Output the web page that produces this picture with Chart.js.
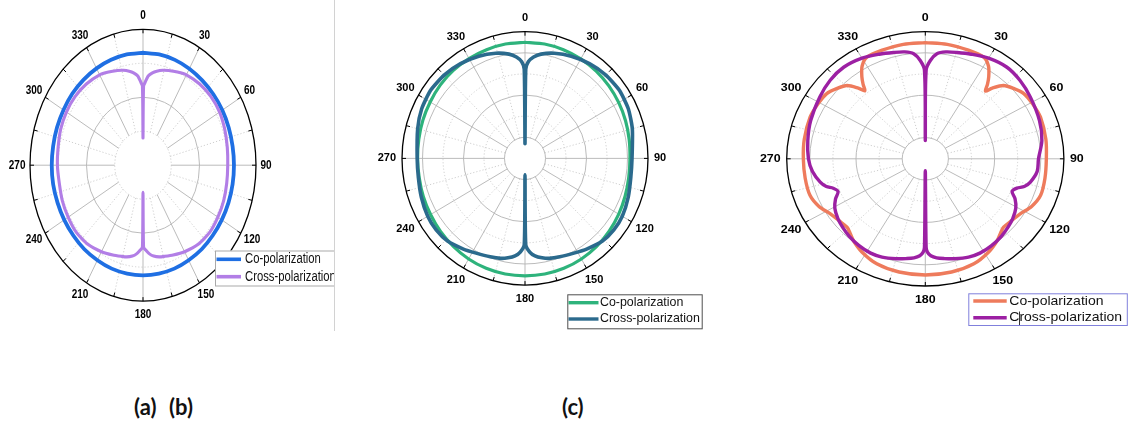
<!DOCTYPE html>
<html>
<head>
<meta charset="utf-8">
<script src="https://cdn.jsdelivr.net/npm/chart.js@4.4.1/dist/chart.umd.min.js"></script>
<style>
  html, body { margin: 0; padding: 0; background: #fff; }
  body { width: 1128px; height: 428px; position: relative; overflow: hidden; }
  canvas { position: absolute; }
  .edge { position: absolute; left: 334px; top: 0; width: 1px; height: 331px; background: #d2d2d2; }
  .cap { position: absolute; top: 393px; font: bold 22px Lato, "Open Sans", sans-serif; color: #111; white-space: pre; }
</style>
</head>
<body>
<canvas id="pa" width="335" height="335" style="left:0;top:0"></canvas>
<canvas id="pb" width="380" height="340" style="left:340px;top:0"></canvas>
<canvas id="pc" width="398" height="340" style="left:730px;top:0"></canvas>
<div class="edge"></div>
<div class="cap" style="left:134px">(a)</div>
<div class="cap" style="left:169px">(b)</div>
<div class="cap" style="left:562px">(c)</div>
<script>
// ---- angle labels around each polar frame (degrees) ----
const ANGLE_LABELS = ['0', '30', '60', '90', '120', '150', '180', '210', '240', '270', '300', '330'];
const SERIES_NAMES = ['Co-polarization', 'Cross-polarization'];

// ---- radial rings (dB) ----
const RINGS_A = [-30, -20, -10, 0];
const RINGS_BC = [-25, -20, -15, -10, -5, 0];

// ---- shared angle grid for the smooth co-polar traces (deg) ----
const ANG_10 = [0, 10, 20, 30, 40, 50, 60, 70, 80, 90, 100, 110, 120, 130, 140, 150, 160, 170, 180,
                190, 200, 210, 220, 230, 240, 250, 260, 270, 280, 290, 300, 310, 320, 330, 340, 350, 360];

// ---- panel (a)/(b): left pattern ----
const A_CO = [-6.9, -6.9, -7.0, -7.2, -7.4, -7.5, -7.6, -7.7, -7.8, -7.8, -7.8, -7.8, -7.8, -7.8, -7.7, -7.7, -7.6, -7.6, -7.6,
              -7.6, -7.6, -7.7, -7.7, -7.8, -7.8, -7.8, -7.7, -7.7, -7.7, -7.6, -7.5, -7.3, -7.2, -7.1, -7.0, -6.9, -6.9];
const A_X_ANG = [0, 0.5, 2, 4, 7, 10, 14, 18, 24, 30, 40, 50, 60, 70, 80, 90, 100, 110, 120, 130, 140, 150, 158, 164, 168, 172, 175, 177.5, 179.5,
                 180, 180.5, 182.5, 185, 188, 192, 196, 202, 210, 220, 230, 240, 250, 260, 270, 280, 290, 300, 310, 320, 330, 336, 342, 346,
                 350, 353, 356, 358, 359.5, 360];
const A_X = [-32, -16.7, -15.4, -13.7, -12.6, -11.9, -11.2, -10.7, -10.0, -9.3, -8.8, -8.6, -8.7, -9.2, -9.7, -10.0, -9.9, -9.6, -9.4, -9.2, -9.6, -10.6, -11.5, -12.1, -12.4, -13.0, -13.8, -14.9, -15.8,
             -32, -15.8, -14.9, -13.8, -13.0, -12.4, -12.1, -11.5, -10.6, -9.6, -9.2, -9.4, -9.6, -9.9, -9.7, -9.5, -9.0, -8.7, -8.6, -8.8, -9.3, -10.0, -10.7, -11.2,
             -11.9, -12.6, -13.7, -15.4, -16.7, -32];

// ---- panel (c) middle pattern ----
const B_CO = [-2.5, -2.5, -2.6, -2.8, -3.0, -3.3, -3.6, -3.9, -4.2, -4.4, -4.3, -4.0, -3.6, -3.2, -2.8, -2.5, -2.3, -2.2, -2.2,
              -2.2, -2.3, -2.5, -2.8, -3.1, -3.4, -3.6, -3.8, -3.8, -3.7, -3.5, -3.3, -3.0, -2.8, -2.7, -2.6, -2.5, -2.5];
const B_X_ANG = [0, 0.5, 2, 5, 9, 16, 25, 35, 45, 55, 65, 75, 90, 100, 110, 120, 128, 136, 145, 152, 160, 166, 170, 174, 177, 179.5,
                 180, 180.5, 183, 186, 190, 194, 200, 208, 215, 224, 232, 240, 250, 260, 270, 285, 295, 305, 315, 325, 335, 344, 351, 355, 358, 359.5, 360];
const B_X = [-26.5, -8.9, -7.1, -5.9, -5.0, -4.1, -3.3, -2.6, -2.1, -1.9, -2.2, -2.9, -3.9, -3.8, -3.2, -2.6, -2.5, -2.8, -3.8, -4.6, -5.2, -5.6, -6.1, -6.8, -7.8, -9.6,
             -26.1, -9.6, -7.8, -6.8, -6.1, -5.6, -5.2, -4.6, -3.8, -2.8, -2.5, -2.6, -3.1, -3.6, -3.7, -2.9, -2.2, -1.9, -2.1, -2.6, -3.3, -4.1, -5.0, -5.9, -7.1, -8.9, -26.5];

// ---- panel (c) right pattern ----
const C_CO_ANG = [0, 10, 20, 27.8, 32, 35.4, 37.5, 39.2, 41, 44.4, 49, 54.2, 61, 68.5, 80, 90, 100, 109, 116, 122.3, 128, 133.6, 137, 141.2, 148, 157, 168,
                  180, 192, 203, 212, 218.8, 223, 226.4, 232, 237.7, 244, 251, 260, 270, 280, 291.5, 299, 305.8, 311, 315.6, 319, 320.8, 322.5, 324.6, 328, 332.2, 340, 350, 360];
const C_CO = [-2.6, -2.6, -2.75, -2.9, -4.2, -6.3, -7.9, -9.4, -7.9, -5.8, -4.7, -3.7, -3.4, -3.2, -3.5, -3.8, -3.7, -3.6, -4.4, -5.7, -6.3, -6.6, -6.1, -5.2, -4.1, -3.1, -2.7,
              -2.6, -2.7, -3.1, -4.1, -5.2, -6.1, -6.6, -6.3, -5.7, -4.4, -3.6, -3.6, -3.6, -3.4, -3.2, -3.4, -3.7, -4.7, -5.8, -7.9, -9.3, -7.9, -6.3, -4.2, -2.9, -2.75, -2.6, -2.6];
const C_X_ANG = [0, 0.5, 2.7, 5.8, 10, 15.3, 22, 30, 39.3, 48, 57.4, 70, 80.3, 90, 97, 103.6, 107, 109.2, 112.3, 115.9, 120.8, 126.7, 132, 138, 145, 152, 158, 165, 170, 174, 177, 178.8, 179.5,
                 180, 180.5, 181.2, 183, 186, 190, 195, 202, 208, 215, 222, 228, 233.3, 239.2, 244.1, 247.7, 250.8, 253, 256.4, 263, 270, 279.7, 290, 302.6, 312, 320.7, 330, 338, 344.7, 350, 354.2, 357.3, 359.5, 360];
const C_X = [-25.7, -9.1, -6.8, -5.1, -4.4, -4.0, -3.4, -2.6, -2.1, -2.4, -3.0, -3.7, -4.4, -5.5, -5.6, -6.6, -7.6, -9.0, -9.7, -8.4, -7.2, -6.4, -5.9, -5.4, -5.0, -4.8, -5.0, -5.6, -6.1, -6.5, -7.1, -8.0, -9.1,
             -27.2, -9.1, -8.0, -7.1, -6.5, -6.1, -5.6, -5.0, -4.8, -5.0, -5.4, -5.9, -6.4, -7.2, -8.4, -9.6, -8.9, -7.6, -6.6, -5.4, -4.7, -4.2, -3.6, -2.9, -2.3, -2.1, -2.6, -3.4, -4.0, -4.4, -5.1, -6.8, -9.1, -25.7];

// polar (angle, dB) -> normalised cartesian value for the hidden linear x/y scales
function polarPoints(angles, values, rMin, rMax) {
  return angles.map((a, i) => {
    const rho = (values[i] - rMin) / (rMax - rMin);
    const t = a * Math.PI / 180;
    return { x: rho * Math.sin(t), y: rho * Math.cos(t) };
  });
}

function strokeStyle(ctx, kind) {
  if (kind === 'outer') { ctx.strokeStyle = '#000'; ctx.lineWidth = 1.3; ctx.setLineDash([]); }
  else if (kind === 'solid') { ctx.strokeStyle = '#b3b3b3'; ctx.lineWidth = 0.9; ctx.setLineDash([]); }
  else { ctx.strokeStyle = '#c9c9c9'; ctx.lineWidth = 0.9; ctx.setLineDash([1.2, 2]); }
}

// rings, spokes, rim ticks, angle labels and boxed legend of a polar frame
const polarFrame = {
  id: 'polarFrame',
  beforeDatasetsDraw(chart, _args, o) {
    const ctx = chart.ctx, xs = chart.scales.x, ys = chart.scales.y;
    const cx = xs.getPixelForValue(0), cy = ys.getPixelForValue(0);
    const ax = xs.getPixelForValue(1) - cx, ay = cy - ys.getPixelForValue(1);
    const rho = v => (v - o.min) / (o.max - o.min);
    const n = o.rings.length;
    ctx.save();
    for (let i = 0; i < n - 1; i++) {
      const r = rho(o.rings[i]);
      ctx.beginPath();
      ctx.ellipse(cx, cy, ax * r, ay * r, 0, 0, Math.PI * 2);
      strokeStyle(ctx, o.ringStyles[i]);
      ctx.stroke();
    }
    const r0 = rho(o.rings[0]), r1 = rho(o.rings[n - 1]);
    for (let a = 0; a < 360; a += 15) {
      const t = a * Math.PI / 180, s = Math.sin(t), c = Math.cos(t);
      ctx.beginPath();
      ctx.moveTo(cx + ax * r0 * s, cy - ay * r0 * c);
      ctx.lineTo(cx + ax * r1 * s, cy - ay * r1 * c);
      strokeStyle(ctx, a % 30 === 0 ? 'solid' : 'dot');
      ctx.stroke();
    }
    ctx.beginPath();
    ctx.ellipse(cx, cy, ax * r1, ay * r1, 0, 0, Math.PI * 2);
    strokeStyle(ctx, 'outer');
    ctx.stroke();
    ctx.lineWidth = 1;
    for (let a = 0; a < 360; a += 15) {
      const t = a * Math.PI / 180, s = Math.sin(t), c = Math.cos(t);
      ctx.beginPath();
      ctx.moveTo(cx + ax * r1 * s, cy - ay * r1 * c);
      ctx.lineTo(cx + (ax * r1 - o.tick) * s, cy - (ay * r1 - o.tick) * c);
      ctx.stroke();
    }
    ctx.restore();
  },
  afterDraw(chart, _args, o) {
    const ctx = chart.ctx, xs = chart.scales.x, ys = chart.scales.y;
    const cx = xs.getPixelForValue(0), cy = ys.getPixelForValue(0);
    const ax = xs.getPixelForValue(1) - cx, ay = cy - ys.getPixelForValue(1);
    const [sx, sy] = o.textScale;
    const drawText = (txt, x, y) => {
      ctx.save(); ctx.translate(x, y); ctx.scale(sx, sy); ctx.fillText(txt, 0, 0); ctx.restore();
    };
    ctx.save();
    ctx.fillStyle = '#000';
    ctx.font = 'bold ' + o.labelSize + 'px "Liberation Sans", Arial, sans-serif';
    ctx.textAlign = 'center';
    ctx.textBaseline = 'middle';
    ANGLE_LABELS.forEach(lbl => {
      const t = Number(lbl) * Math.PI / 180;
      const w = ctx.measureText(lbl).width * sx;
      drawText(lbl, cx + Math.sin(t) * (ax + o.labelGap + w / 2), cy - Math.cos(t) * (ay + o.labelOffY));
    });

    const L = o.legend;
    ctx.fillStyle = '#fff';
    ctx.fillRect(L.x, L.y, L.w, L.h);
    ctx.strokeStyle = L.border;
    ctx.lineWidth = 1;
    ctx.strokeRect(L.x + 0.5, L.y + 0.5, L.w, L.h);
    ctx.font = L.size + 'px "Liberation Sans", Arial, sans-serif';
    ctx.textAlign = 'left';
    chart.data.datasets.forEach((ds, i) => {
      const y = L.rows[i];
      ctx.strokeStyle = ds.borderColor;
      ctx.lineWidth = L.lineWidth;
      ctx.beginPath(); ctx.moveTo(L.line[0], y); ctx.lineTo(L.line[1], y); ctx.stroke();
      ctx.fillStyle = '#111';
      drawText(ds.label, L.textX, y);
    });
    if (L.caret) {
      ctx.strokeStyle = '#333'; ctx.lineWidth = 1;
      ctx.beginPath(); ctx.moveTo(L.caret[0], L.caret[1]); ctx.lineTo(L.caret[0], L.caret[2]); ctx.stroke();
    }
    ctx.restore();
  }
};

function makePolar(id, cfg) {
  const el = document.getElementById(id);
  const W = el.width, H = el.height;
  const pad = {
    left: cfg.cx - cfg.rx, right: W - (cfg.cx + cfg.rx),
    top: cfg.cy - cfg.ry, bottom: H - (cfg.cy + cfg.ry)
  };
  return new Chart(el, {
    type: 'scatter',
    data: {
      datasets: [
        { label: SERIES_NAMES[0], data: polarPoints(cfg.coAng, cfg.co, cfg.min, cfg.max),
          borderColor: cfg.colors[0], borderWidth: cfg.widths[0], order: 1 },
        { label: SERIES_NAMES[1], data: polarPoints(cfg.xAng, cfg.x, cfg.min, cfg.max),
          borderColor: cfg.colors[1], borderWidth: cfg.widths[1], order: 0 }
      ].map(d => Object.assign(d, { showLine: true, pointRadius: 0, pointHoverRadius: 0, tension: cfg.tension,
                                     borderJoinStyle: 'round', borderCapStyle: 'round', fill: false, clip: false }))
    },
    options: {
      responsive: false, animation: false, events: [],
      layout: { padding: pad },
      scales: {
        x: { type: 'linear', min: -1, max: 1, display: false },
        y: { type: 'linear', min: -1, max: 1, display: false }
      },
      plugins: {
        legend: { display: false }, tooltip: { enabled: false },
        polarFrame: cfg.frame
      }
    },
    plugins: [polarFrame]
  });
}

makePolar('pa', {
  cx: 143, cy: 165.2, rx: 113, ry: 135.9, min: -40, max: 0, tension: 0.2,
  coAng: ANG_10, co: A_CO, xAng: A_X_ANG, x: A_X,
  colors: ['#1f6fe3', '#b27ee6'], widths: [3.8, 3.1],
  frame: {
    min: -40, max: 0, rings: RINGS_A, ringStyles: ['dot', 'solid', 'dot', 'outer'], tick: 4,
    textScale: [0.91, 1.12], labelSize: 11, labelGap: 4.5, labelOffY: 13.3,
    legend: { x: 215, y: 250.5, w: 140, h: 35, border: '#a9a9a9', line: [216.5, 241], rows: [259.3, 276.7],
              textX: 245, size: 12.4, lineWidth: 3.6 }
  }
});

makePolar('pb', {
  cx: 185, cy: 158.4, rx: 123, ry: 126.7, min: -30, max: 0, tension: 0.2,
  coAng: ANG_10, co: B_CO, xAng: B_X_ANG, x: B_X,
  colors: ['#2eb37c', '#2b6a8d'], widths: [3.2, 3.6],
  frame: {
    min: -30, max: 0, rings: RINGS_BC, ringStyles: ['solid', 'dot', 'solid', 'dot', 'solid', 'outer'], tick: 4,
    textScale: [1, 1], labelSize: 11, labelGap: 6, labelOffY: 14,
    legend: { x: 227.3, y: 294.3, w: 134.4, h: 34, border: '#4f4f4f', line: [228.5, 258.5], rows: [302.7, 319],
              textX: 260, size: 12.4, lineWidth: 3.4 }
  }
});

makePolar('pc', {
  cx: 195.3, cy: 158.8, rx: 138.6, ry: 127.2, min: -30, max: 0, tension: 0.3,
  coAng: C_CO_ANG, co: C_CO, xAng: C_X_ANG, x: C_X,
  colors: ['#ee7b5c', '#9c20a3'], widths: [3.4, 3.4],
  frame: {
    min: -30, max: 0, rings: RINGS_BC, ringStyles: ['solid', 'dot', 'solid', 'dot', 'solid', 'outer'], tick: 4,
    textScale: [1.13, 1.04], labelSize: 11, labelGap: 6, labelOffY: 14,
    legend: { x: 238.3, y: 293.3, w: 158.5, h: 31.7, border: '#8080dc', line: [243.3, 276.7], rows: [301, 317.7],
              textX: 279.3, size: 12.4, lineWidth: 3.4, caret: [289.5, 311.5, 325] }
  }
});
</script>
</body>
</html>
